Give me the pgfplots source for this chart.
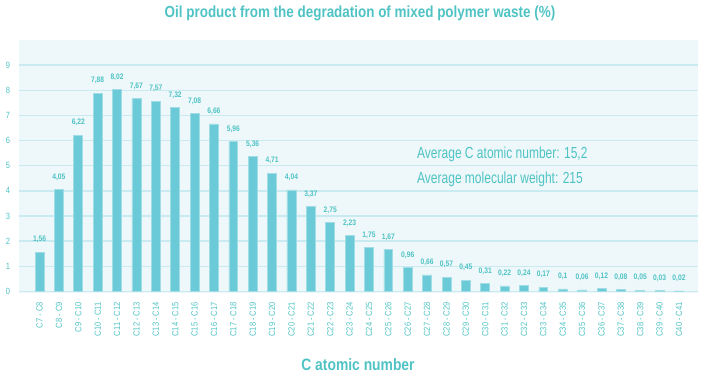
\documentclass[border=0pt]{standalone}
\usepackage{pgfplots}
\pgfplotsset{compat=1.18}
\usepackage{fontspec}
\setmainfont{Liberation Sans}[FakeStretch=0.84]
\newfontfamily\narrowfont{Liberation Sans}[FakeStretch=0.75]
\definecolor{txt}{HTML}{4FC3C4}
\definecolor{barc}{HTML}{6BCAD7}
\definecolor{barl}{HTML}{A2DDE6}
\definecolor{bgc}{HTML}{EEF8FA}
\definecolor{gridc}{HTML}{C8EAF0}
\begin{document}
\begin{tikzpicture}[x=1pt,y=1pt]
\useasboundingbox (0,0) rectangle (716,376);
\begin{axis}[
  at={(19pt,83pt)}, anchor=south west,
  scale only axis, width=679pt, height=253pt,
  xmin=-1.06, xmax=33.98, ymin=-0.06, ymax=10,
  axis line style={draw=none},
  axis background/.style={fill=bgc},
  ytick={0,1,2,3,4,5,6,7,8,9},
  yticklabels={0,1,2,3,4,5,6,7,8,9},
  ymajorgrids,
  grid style={gridc, line width=1.4pt},
  major tick length=0pt,
  yticklabel style={font=\fontsize{9}{10}\selectfont, text=txt, anchor=center, inner sep=0pt},
  yticklabel shift={11pt},
  xtick={0,1,...,33},
  xticklabels={C7 - C8, C8 - C9, C9 - C10, C10 - C11, C11 - C12, C12 - C13, C13 - C14, C14 - C15, C15 - C16, C16 - C17, C17 - C18, C18 - C19, C19 - C20, C20 - C21, C21 - C22, C22 - C23, C23 - C24, C24 - C25, C25 - C26, C26 - C27, C27 - C28, C28 - C29, C29 - C30, C30 - C31, C31 - C32, C32 - C33, C33 - C34, C34 - C35, C35 - C36, C36 - C37, C37 - C38, C38 - C39, C39 - C40, C40 - C41},
  xticklabel style={rotate=90, anchor=east, font=\fontsize{9}{10}\selectfont, text=txt, inner sep=0pt},
  xticklabel shift={9pt},
  clip=false,
]
\addplot[ybar, bar width=0.46, fill=barc, draw=barl, line width=0.7pt,
  point meta=explicit symbolic,
  nodes near coords={\pgfplotspointmeta},
  every node near coord/.append style={font=\bfseries\fontsize{8}{9}\selectfont, text=txt, anchor=center, yshift=12.5pt, inner sep=0pt}] coordinates {
(0,1.56) [1,56] (1,4.05) [4,05] (2,6.22) [6,22] (3,7.88) [7,88] (4,8.02) [8,02] (5,7.67) [7,67] (6,7.57) [7,57] (7,7.32) [7,32] (8,7.08) [7,08] (9,6.66) [6,66]
(10,5.96) [5,96] (11,5.36) [5,36] (12,4.71) [4,71] (13,4.04) [4,04] (14,3.37) [3,37] (15,2.75) [2,75] (16,2.23) [2,23] (17,1.75) [1,75] (18,1.67) [1,67] (19,0.96) [0,96]
(20,0.66) [0,66] (21,0.57) [0,57] (22,0.45) [0,45] (23,0.31) [0,31] (24,0.22) [0,22] (25,0.24) [0,24] (26,0.17) [0,17] (27,0.1) [0,1] (28,0.06) [0,06] (29,0.12) [0,12]
(30,0.08) [0,08] (31,0.05) [0,05] (32,0.03) [0,03] (33,0.02) [0,02]};
\end{axis}
\node[font=\bfseries\fontsize{16}{18}\selectfont, text=txt] at (360,363) {Oil product from the degradation of mixed polymer waste (\%)};
\node[font=\narrowfont\fontsize{16}{18}\selectfont, text=txt, anchor=west, inner sep=0pt] at (417,222) {Average C atomic number: 15,2};
\node[font=\narrowfont\fontsize{16}{18}\selectfont, text=txt, anchor=west, inner sep=0pt] at (417,197) {Average molecular weight: 215};
\node[font=\bfseries\fontsize{16.5}{18}\selectfont, text=txt] at (358,11) {C atomic number};
\end{tikzpicture}
\end{document}
